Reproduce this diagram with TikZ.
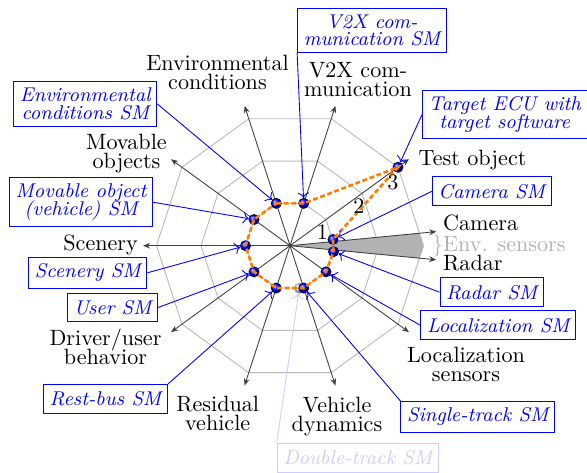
\documentclass[tikz,border=0pt]{standalone}
\usetikzlibrary{arrows.meta}
\newcommand{\tightls}{\lineskiplimit=-20pt\relax}
\begin{document}
\begin{tikzpicture}[x=0.4517pt,y=-0.4517pt,
  ring/.style={draw=black!28, line width=0.4pt},
  axisline/.style={draw=black!75, line width=0.4pt, -{Stealth[length=3.2pt,width=2.6pt]}},
  axislab/.style={font={\fontsize{10}{8.6}\selectfont\tightls}, align=center, inner sep=0pt},
  smbox/.style={draw=blue, line width=0.4pt, text=blue, font={\fontsize{9}{7.9}\selectfont\tightls\itshape}, align=center, inner xsep=2.8pt, inner ysep=2.8pt},
  smone/.style={smbox, minimum height=13pt},
  smarrow/.style={draw=blue, line width=0.4pt, ->},
  ballnode/.style={circle, inner sep=0pt, minimum size=4.6pt, ball color=blue, draw=blue!30!black, line width=0.3pt},
  orangepath/.style={draw=orange, line width=1.2pt, dash pattern=on 2.2pt off 1.2pt},
]
\useasboundingbox (0,0) rectangle (587,472);

\begin{scope}[shift={(290,245.7)}, yscale=-1]
  \coordinate (O) at (0,0);
  % rings
  \foreach \k in {44.5,89,133.5}
    \draw[ring] (0:\k) \foreach \a in {36,72,...,324}{ -- (\a:\k)} -- cycle;
  % env sensors wedge
  \fill[black!30] (O) -- (5.5:130.05) -- (0:133.5) -- (-5.5:130.05) -- cycle;
  % axis tips
  \foreach \n/\a in {tT/36, tV/72, tE/108, tM/144, tS/180, tD/216, tR/252, tY/288, tL/324, tC/5.5, tA/-5.5}
    \coordinate (\n) at (\a:147);
  \foreach \n in {tT,tV,tE,tM,tS,tD,tR,tY,tL,tC,tA}
    \draw[axisline] (O) -- (\n);
\end{scope}

% balls
\node[ballnode, ball color=blue!15, draw=blue!25!black!35] (bDT) at (299.3,288.3) {};
\begin{scope}[shift={(290,245.7)}, yscale=-1]
  \node[ballnode] (bE) at (108:44.5) {};
  \node[ballnode] (bV) at (72:44.5) {};
  \node[ballnode] (bT) at (36:133.5) {};
  \node[ballnode] (bM) at (144:44.5) {};
  \node[ballnode] (bS) at (180:44.5) {};
  \node[ballnode] (bD) at (216:44.5) {};
  \node[ballnode] (bR) at (252:44.5) {};
  \node[ballnode] (bY) at (288:44.5) {};
  \node[ballnode] (bL) at (324:44.5) {};
\end{scope}
\node[ballnode] (bC) at (333,239.5) {};
\node[ballnode] (bA) at (333.5,251.7) {};

% orange profile
\draw[orangepath] (bE.center) -- (bV.center) -- (bT.center) -- (bC.center) -- (bA.center) -- (bL.center) -- (bY.center) -- (bR.center) -- (bD.center) -- (bS.center) -- (bM.center) -- cycle;

% tick labels
\node[axislab] (n1) at (322.5,231.7) {1};
\node[axislab] (n2) at (359,206) {2};
\node[axislab] (n3) at (393,182) {3};

% axis labels
\node[axislab, anchor=north] (lEnv) at (217.5,55) {Environmental\\conditions};
\node[axislab, anchor=north] (lV2X) at (358,62.3) {V2X com-\\munication};
\node[axislab, anchor=base west] (lTest) at (418.3,165.7) {Test object};
\node[axislab, anchor=north] (lMov) at (126.5,133.5) {Movable\\objects};
\node[axislab, anchor=base east] (lScen) at (138.3,250) {Scenery};
\node[axislab, anchor=north] (lDrv) at (105.5,328.5) {Driver/user\\behavior};
\node[axislab, anchor=north] (lRes) at (217.7,395.5) {Residual\\vehicle};
\node[axislab, anchor=north] (lVD) at (337,397) {Vehicle\\dynamics};
\node[axislab, anchor=north] (lLoc) at (466,347) {Localization\\sensors};
\node[axislab, anchor=base west] (lCam) at (442.7,230) {Camera};
\node[axislab, anchor=base west] (lRad) at (442.7,270.7) {Radar};
\node[axislab, anchor=base west, text=black!30] (lEnvS) at (442.7,251) {\llap{\}}Env. sensors};

% SM boxes
\node[smbox] (envSM) at (85.3,103.9) {Environmental\\conditions SM};
\node[smbox] (v2xSM) at (372,30.5) {V2X com-\\munication SM};
\node[smbox] (tgtSM) at (504.7,114.7) {Target ECU with\\target software};
\node[smbox] (movSM) at (81,202.2) {Movable object\\(vehicle) SM};
\node[smone] (camSM) at (491.7,191.3) {Camera SM};
\node[smone] (scnSM) at (87.8,272.8) {Scenery SM};
\node[smone] (radSM) at (491.7,292.2) {Radar SM};
\node[smone] (usrSM) at (112.7,307.5) {User SM};
\node[smone] (locSM) at (498.3,325.3) {Localization SM};
\node[smone] (rbSM) at (105.5,398.8) {Rest-bus SM};
\node[smone] (stSM) at (477.8,416.7) {Single-track SM};
\node[smone, draw=blue!20, text=blue!20] (dtSM) at (357.8,457.8) {Double-track SM};

% SM arrows
\draw[smarrow] (envSM.east) -- (bE);
\draw[smarrow] (v2xSM.south west) -- (bV);
\draw[smarrow] (tgtSM.west) -- (bT);
\draw[smarrow] (movSM.east) -- (bM);
\draw[smarrow] (camSM.west) -- (bC);
\draw[smarrow] (scnSM.east) -- (bS);
\draw[smarrow] (radSM.west) -- (bA);
\draw[smarrow] (usrSM.east) -- (bD);
\draw[smarrow] (locSM.west) -- (bL);
\draw[smarrow] (rbSM.north east) -- (bR);
\draw[smarrow] (stSM.north west) -- (bY);
\draw[smarrow, draw=blue!20] (dtSM.north west) -- (bDT);
\end{tikzpicture}
\end{document}
